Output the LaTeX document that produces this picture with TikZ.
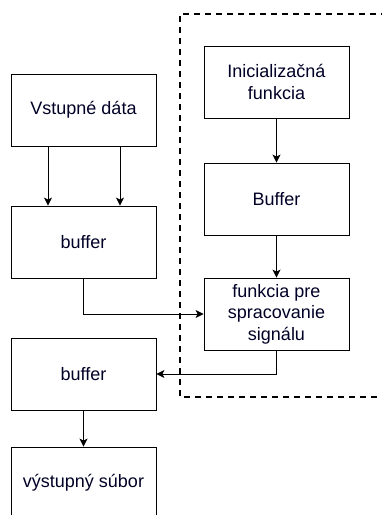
\documentclass[tikz,border=0pt]{standalone}
\usepackage{fontspec}
\setmainfont{Liberation Sans}
\usetikzlibrary{arrows.meta}
\begin{document}
\begin{tikzpicture}[x=1pt,y=-1pt,
  box/.style={draw, line width=0.9pt, minimum width=145pt, minimum height=72pt, inner sep=0pt, align=center, font=\fontsize{18}{21.5}\selectfont, text=black!85!blue},
  conn/.style={draw, line width=0.9pt, -{Stealth[length=8pt,width=8pt,inset=2pt]}}]
\useasboundingbox (0,0) rectangle (382,515);
\clip (0,0) rectangle (382,515);
\draw[line width=1.8pt, dash pattern=on 6pt off 5pt] (420,14) -- (180,14) -- (180,397) -- (420,397);
\node[box] (in) at (83.5,110) {Vstupné dáta};
\node[box] (b1) at (83.5,242) {buffer};
\node[box] (b2) at (83.5,374) {buffer};
\node[box] (out) at (83.5,483) {výstupný súbor};
\node[box] (init) at (276.5,82) {Inicializačná\\funkcia};
\node[box] (buf) at (276.5,199) {Buffer};
\node[box] (fn) at (276.5,314) {funkcia pre\\spracovanie\\signálu};
\coordinate (a1) at (48,0);
\coordinate (a2) at (120,0);
\draw[conn] (in.south -| a1) -- (b1.north -| a1);
\draw[conn] (in.south -| a2) -- (b1.north -| a2);
\draw[conn] (init) -- (buf);
\draw[conn] (buf) -- (fn);
\draw[conn] (b1.south) |- (fn.west);
\draw[conn] (fn.south) |- (b2.east);
\draw[conn] (b2) -- (out);
\end{tikzpicture}
\end{document}
